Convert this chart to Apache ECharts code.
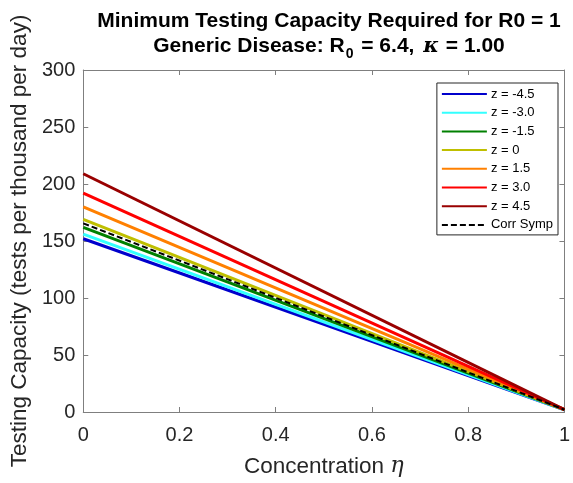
<!DOCTYPE html>
<html><head><meta charset="utf-8">
<script src="https://cdn.jsdelivr.net/npm/echarts@6/dist/echarts.min.js"></script>
<style>html,body{margin:0;padding:0;background:#fff}#c{width:573px;height:483px}</style>
</head><body><div id="c"></div>
<script>
// Data
const eta = [0, 1];
const seriesNames = ['z = -4.5', 'z = -3.0', 'z = -1.5', 'z = 0', 'z = 1.5', 'z = 3.0', 'z = 4.5', 'Corr Symp'];
const zNeg45 = [152, 2];
const zNeg30 = [156, 2];
const zNeg15 = [162, 2];
const z0 = [169, 2];
const zPos15 = [180, 2];
const zPos30 = [192, 2];
const zPos45 = [209, 2];
const corrSymp = [165.5, 2];
const xTicks = [0, 0.2, 0.4, 0.6, 0.8, 1];
const yTicks = [0, 50, 100, 150, 200, 250, 300];

const seriesValues = [zNeg45, zNeg30, zNeg15, z0, zPos15, zPos30, zPos45, corrSymp];
const colors = ['#0000cc', '#33ffff', '#008000', '#bfbf00', '#ff8000', '#ff0000', '#990000', '#000000'];

const chart = echarts.init(document.getElementById('c'));
const axisCol = '#7f7f7f';
const txtCol = '#262626';
const font = 'Liberation Sans, Arial, sans-serif';

const series = seriesValues.map((vals, i) => ({
  name: seriesNames[i],
  type: 'line',
  symbol: 'none',
  data: eta.map((x, j) => [x, vals[j]]),
  lineStyle: {color: colors[i], width: i === 7 ? 2 : 3, type: i === 7 ? [6, 3] : 'solid'},
  itemStyle: {color: colors[i]},
  z: 2 + i,
  animation: false
}));

chart.setOption({
  animation: false,
  title: {
    text: 'Minimum Testing Capacity Required for R0 = 1\nGeneric Disease: R{sub|0} = 6.4, {it|κ} = 1.00',
    left: 324, top: 4, textAlign: 'center',
    textStyle: {
      fontFamily: font, fontSize: 21, fontWeight: 'bold', color: '#000', lineHeight: 25,
      rich: {
        sub: {fontFamily: font, fontSize: 14, fontWeight: 'bold', color: '#000', padding: [15, 2, 0, 1], lineHeight: 25},
        it: {fontFamily: 'DejaVu Serif, serif', fontStyle: 'italic', fontSize: 21, color: '#000', lineHeight: 25, padding: [0, 1, 0, 3]}
      }
    }
  },
  legend: {
    data: seriesNames,
    orient: 'vertical',
    right: 15, top: 83,
    itemWidth: 45, itemHeight: 13, itemGap: 5.7,
    padding: [4.5, 5, 3.5, 4],
    itemStyle: {opacity: 0},
    borderColor: txtCol, borderWidth: 1, backgroundColor: '#fff',
    textStyle: {fontFamily: font, fontSize: 13, color: '#000', padding: [0, 0, 0, -1]}
  },
  grid: {left: 81, right: 7, top: 70, bottom: 71, containLabel: false},
  xAxis: [{
    type: 'value', min: 0, max: 1, interval: 0.2,
    name: 'Concentration {it|η}', nameLocation: 'middle', nameGap: 43,
    nameTextStyle: {fontFamily: font, fontSize: 22.5, color: txtCol,
      rich: {it: {fontFamily: 'DejaVu Serif, serif', fontStyle: 'italic', fontSize: 22.5, color: txtCol}}},
    axisLine: {onZero: false, lineStyle: {color: axisCol}},
    axisTick: {inside: true, length: 5, lineStyle: {color: axisCol}},
    axisLabel: {fontFamily: font, fontSize: 20, color: txtCol, margin: 13,
      formatter: v => xTicks.includes(+v.toFixed(1)) ? String(+v.toFixed(1)) : ''},
    splitLine: {show: false}
  }, {
    type: 'value', min: 0, max: 1, interval: 0.2, position: 'top',
    axisLine: {onZero: false, lineStyle: {color: axisCol}},
    axisTick: {inside: true, length: 5, lineStyle: {color: axisCol}},
    axisLabel: {show: false}, splitLine: {show: false}
  }],
  yAxis: [{
    type: 'value', min: 0, max: 300, interval: 50,
    name: 'Testing Capacity (tests per thousand per day)', nameLocation: 'middle', nameGap: 51,
    nameTextStyle: {fontFamily: font, fontSize: 22.5, color: txtCol},
    axisLine: {show: true, onZero: false, lineStyle: {color: axisCol}},
    axisTick: {show: true, inside: true, length: 5, lineStyle: {color: axisCol}},
    axisLabel: {fontFamily: font, fontSize: 20, color: txtCol, margin: 8,
      formatter: v => yTicks.includes(v) ? String(v) : ''},
    splitLine: {show: false}
  }, {
    type: 'value', min: 0, max: 300, interval: 50, position: 'right',
    axisLine: {show: true, onZero: false, lineStyle: {color: axisCol}},
    axisTick: {show: true, inside: true, length: 5, lineStyle: {color: axisCol}},
    axisLabel: {show: false}, splitLine: {show: false}
  }],
  series: series
});
</script></body></html>
